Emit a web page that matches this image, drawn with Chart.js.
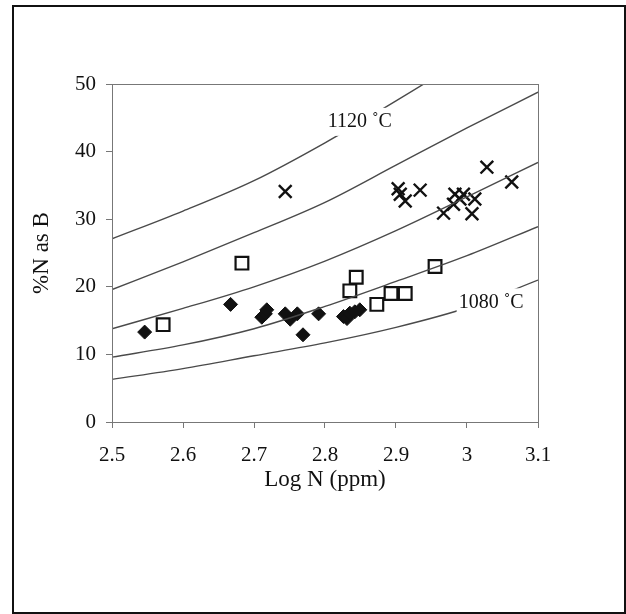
<!DOCTYPE html>
<html>
<head>
<meta charset="utf-8">
<script src="https://cdn.jsdelivr.net/npm/chart.js@4.4.1/dist/chart.umd.min.js"></script>
<style>
  html, body { margin: 0; padding: 0; background: #fff; }
  #wrap { position: relative; width: 626px; height: 614px; }
  #frame { position: absolute; left: 12px; top: 5px; width: 610px; height: 605px; border: 2px solid #111; pointer-events: none; }
  canvas { position: absolute; left: 0; top: 0; }
</style>
</head>
<body>
<div id="wrap">
  <canvas id="chart" width="626" height="614"></canvas>
  <div id="frame"></div>
</div>
<script>
// isotherm curves at each 0.1 of log N
const curveX = [2.5, 2.6, 2.7, 2.8, 2.9, 3.0, 3.1];
const curve1120 = [27.1, 31.2, 35.7, 41.3, 47.5, 54.0, 61.0];
const curve1110 = [19.6, 23.7, 28.0, 32.5, 38.0, 43.5, 48.8];
const curve1100 = [13.8, 16.8, 20.0, 23.8, 28.3, 33.3, 38.4];
const curve1090 = [9.6, 11.4, 13.8, 17.1, 20.8, 24.6, 28.9];
const curve1080 = [6.3, 7.9, 9.8, 11.7, 14.0, 16.9, 21.0];

// samples
const crossX = [2.744, 2.903, 2.906, 2.913, 2.934, 2.967, 2.981, 2.983, 2.990, 2.995, 3.011, 3.007, 3.028, 3.063];
const crossY = [34.1, 34.5, 33.7, 32.7, 34.3, 30.9, 32.2, 33.7, 33.0, 33.7, 33.0, 30.8, 37.7, 35.5];
const squareX = [2.572, 2.683, 2.835, 2.844, 2.873, 2.893, 2.913, 2.955];
const squareY = [14.4, 23.5, 19.4, 21.4, 17.4, 19.0, 19.0, 23.0];
const diamondX = [2.546, 2.667, 2.711, 2.716, 2.718, 2.744, 2.751, 2.761, 2.769, 2.791, 2.826, 2.831, 2.835, 2.842, 2.849];
const diamondY = [13.3, 17.4, 15.5, 16.0, 16.6, 16.0, 15.2, 16.0, 12.9, 16.0, 15.6, 15.3, 16.1, 16.3, 16.6];

const xTicks = [2.5, 2.6, 2.7, 2.8, 2.9, 3.0, 3.1];
const yTicks = [0, 10, 20, 30, 40, 50];

// curve labels: [text, x, y]
const curveLabels = [
  ["1120 \u02daC", 2.849, 44.4],
  ["1080 \u02daC", 3.034, 17.7],
];

const FONT = "'Liberation Serif', 'Times New Roman', serif";
const LINE = "#4a4a4a";
const AXIS = "#777";

const toPoints = (xs, ys) => xs.map((x, i) => ({ x, y: ys[i] }));

function curveSet(values) {
  return {
    type: "line",
    data: toPoints(curveX, values),
    borderColor: LINE,
    borderWidth: 1.4,
    pointRadius: 0,
    fill: false,
    cubicInterpolationMode: "monotone",
  };
}

const framePlugin = {
  id: "frame",
  afterDraw(chart) {
    const { ctx, chartArea: a, scales } = chart;
    ctx.save();
    // white patches behind the curve labels, then the text
    ctx.font = "20px " + FONT;
    ctx.textAlign = "center";
    ctx.textBaseline = "middle";
    curveLabels.forEach(([text, x, y]) => {
      const px = scales.x.getPixelForValue(x);
      const py = scales.y.getPixelForValue(y);
      const w = ctx.measureText(text).width;
      ctx.fillStyle = "#fff";
      ctx.fillRect(px - w / 2 - 2, py - 14, w + 4, 28);
      ctx.fillStyle = "#111";
      ctx.fillText(text, px, py);
    });
    ctx.strokeStyle = AXIS;
    ctx.lineWidth = 1;
    ctx.strokeRect(Math.round(a.left) + 0.5, Math.round(a.top) + 0.5, Math.round(a.right - a.left), Math.round(a.bottom - a.top));
    ctx.restore();
  },
};

new Chart(document.getElementById("chart"), {
  type: "scatter",
  data: {
    datasets: [
      curveSet(curve1120),
      curveSet(curve1110),
      curveSet(curve1100),
      curveSet(curve1090),
      curveSet(curve1080),
      {
        data: toPoints(crossX, crossY),
        pointStyle: "crossRot",
        pointRadius: 9,
        borderColor: "#111",
        borderWidth: 2.4,
      },
      {
        data: toPoints(squareX, squareY),
        pointStyle: "rect",
        pointRadius: 9,
        backgroundColor: "#fff",
        borderColor: "#111",
        borderWidth: 2.2,
      },
      {
        data: toPoints(diamondX, diamondY),
        pointStyle: "rectRot",
        pointRadius: 7,
        backgroundColor: "#111",
        borderColor: "#111",
        borderWidth: 1,
      },
    ],
  },
  options: {
    responsive: false,
    animation: false,
    events: [],
    layout: { padding: { left: 28, top: 84, right: 88, bottom: 120 } },
    plugins: { legend: { display: false }, tooltip: { enabled: false } },
    scales: {
      x: {
        type: "linear",
        min: 2.5,
        max: 3.1,
        afterBuildTicks: (scale) => { scale.ticks = xTicks.map((value) => ({ value })); },
        afterFit: (scale) => { scale.height = 72; },
        ticks: {
          color: "#111",
          font: { family: FONT, size: 21 },
          padding: 15,
          callback: (v) => String(Number(v.toFixed(1))),
        },
        grid: { drawOnChartArea: false, drawTicks: true, tickLength: 6, color: AXIS },
        border: { color: AXIS, width: 1 },
        title: { display: true, text: "Log N (ppm)", color: "#111", font: { family: FONT, size: 23 }, padding: 0 },
      },
      y: {
        type: "linear",
        min: 0,
        max: 50,
        afterBuildTicks: (scale) => { scale.ticks = yTicks.map((value) => ({ value })); },
        afterFit: (scale) => { scale.width = 84; },
        ticks: { color: "#111", font: { family: FONT, size: 21 }, padding: 10 },
        grid: { drawOnChartArea: false, drawTicks: true, tickLength: 6, color: AXIS },
        border: { color: AXIS, width: 1 },
        title: { display: true, text: "%N as B", color: "#111", font: { family: FONT, size: 23 }, padding: 0 },
      },
    },
  },
  plugins: [framePlugin],
});
</script>
</body>
</html>
